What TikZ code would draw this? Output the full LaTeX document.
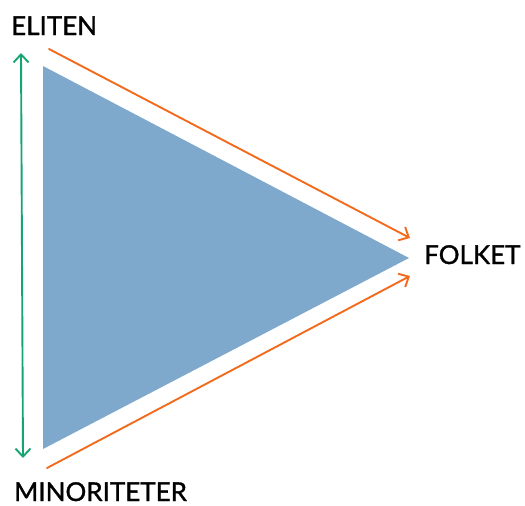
\documentclass[tikz,border=0pt]{standalone}
\usepackage{fontspec}
\setmainfont{Lato}
\newfontfamily\lblfont{Lato}[FakeBold=1.2]
\usetikzlibrary{arrows.meta}
\definecolor{triblue}{HTML}{7FA9CC}
\definecolor{arrorange}{HTML}{F26B1D}
\definecolor{arrgreen}{HTML}{16A571}
\begin{document}
\begin{tikzpicture}[line cap=round,line join=round,x=1pt,y=-1pt,
  lbl/.style={inner sep=0pt,anchor=base west,font=\lblfont\fontsize{26}{30}\selectfont},
  barb/.style={line width=1.9pt,-{Straight Barb[length=8pt,width=15pt]}}]
\useasboundingbox (0,0) rectangle (525,506);
% triangle
\fill[triblue] (43,66) -- (43,449) -- (409,258) -- cycle;
% labels
\node[lbl] (eliten) at (11,35) {ELITEN};
\node[lbl] (folket) at (424,264) {FOLKET};
\node[lbl] (minor) at (14,501) {MINORITETER};
% arrow ends
\coordinate (gtop) at (21,53);
\coordinate (gbot) at (23,458);
\coordinate (otop) at (49,49);
\coordinate (obot) at (47,468);
\coordinate (tipa) at (410,238);
\coordinate (tipb) at (410,276);
% arrows
\draw[barb,arrgreen,{Straight Barb[length=8pt,width=15pt]}-{Straight Barb[length=8pt,width=15pt]}] (gtop) -- (gbot);
\draw[barb,arrorange] (otop) -- (tipa);
\draw[barb,arrorange] (obot) -- (tipb);
\end{tikzpicture}
\end{document}
